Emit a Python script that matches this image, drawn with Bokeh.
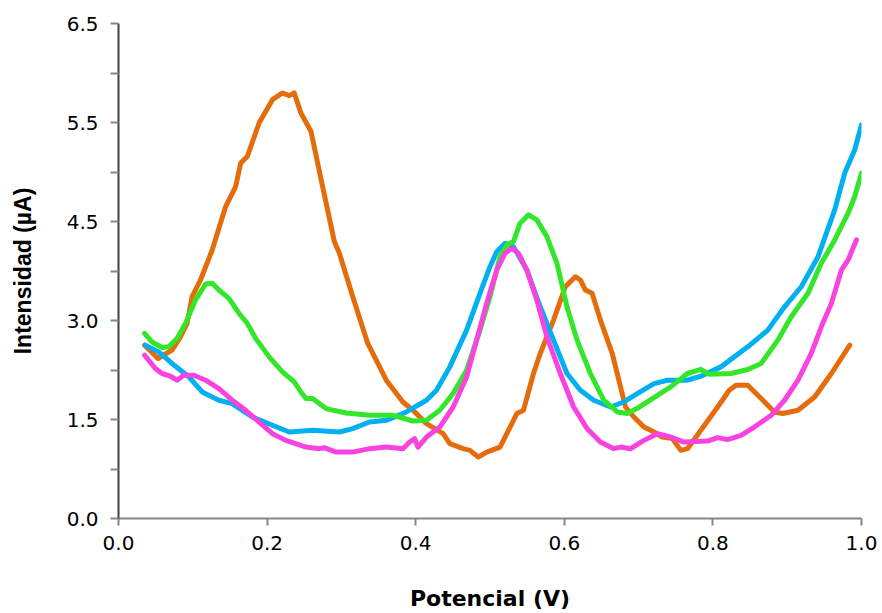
from bokeh.plotting import figure
from bokeh.models import Range1d, FixedTicker
from bokeh.embed import file_html
from bokeh.resources import INLINE

# Voltammograms: potential (V) vs current (µA), four traces
x_orange = [0.0351, 0.0531, 0.0720, 0.0834, 0.0923, 0.0991, 0.1104, 0.1261, 0.1442, 0.1577,
            0.1645, 0.1734, 0.1892, 0.2072, 0.2207, 0.2297, 0.2365, 0.2455, 0.2591, 0.2747,
            0.2905, 0.2973, 0.3153, 0.3355, 0.3604, 0.3828, 0.3964, 0.4145, 0.4369, 0.4459,
            0.4639, 0.4730, 0.4842, 0.4955, 0.5135, 0.5226, 0.5361, 0.5450, 0.5585, 0.5676,
            0.5855, 0.6014, 0.6149, 0.6216, 0.6284, 0.6374, 0.6486, 0.6645, 0.6734, 0.6824,
            0.6936, 0.7072, 0.7207, 0.7320, 0.7455, 0.7568, 0.7658, 0.7838, 0.8064, 0.8220,
            0.8311, 0.8469, 0.8649, 0.8828, 0.8942, 0.9145, 0.9369, 0.9595, 0.9842]
y_orange = [2.276, 2.101, 2.211, 2.386, 2.562, 2.912, 3.132, 3.526, 4.096, 4.359,
            4.667, 4.754, 5.193, 5.500, 5.588, 5.553, 5.588, 5.325, 5.083, 4.359,
            3.636, 3.483, 2.912, 2.299, 1.816, 1.530, 1.421, 1.246, 1.114, 0.983,
            0.917, 0.895, 0.807, 0.872, 0.938, 1.114, 1.378, 1.421, 1.904, 2.167,
            2.605, 3.043, 3.175, 3.132, 3.000, 2.957, 2.605, 2.167, 1.816, 1.464,
            1.333, 1.201, 1.136, 1.070, 1.049, 0.895, 0.917, 1.158, 1.464, 1.684,
            1.750, 1.750, 1.575, 1.399, 1.378, 1.421, 1.596, 1.904, 2.276]

x_blue = [0.0361, 0.0541, 0.0720, 0.0946, 0.1126, 0.1351, 0.1531, 0.1801, 0.2072, 0.2297,
          0.2612, 0.2973, 0.3153, 0.3378, 0.3604, 0.3874, 0.4145, 0.4280, 0.4459, 0.4685,
          0.4865, 0.5000, 0.5091, 0.5203, 0.5315, 0.5496, 0.5676, 0.5855, 0.6036, 0.6216,
          0.6396, 0.6622, 0.6801, 0.6982, 0.7207, 0.7388, 0.7658, 0.7838, 0.8108, 0.8469,
          0.8739, 0.8964, 0.9189, 0.9415, 0.9639, 0.9774, 0.9909, 1.0000]
y_blue = [2.276, 2.188, 2.036, 1.861, 1.662, 1.553, 1.509, 1.333, 1.224, 1.136,
          1.158, 1.136, 1.180, 1.267, 1.289, 1.399, 1.553, 1.684, 1.991, 2.474,
          2.957, 3.307, 3.504, 3.614, 3.570, 3.263, 2.780, 2.342, 1.904, 1.684,
          1.553, 1.464, 1.530, 1.641, 1.772, 1.816, 1.816, 1.868, 1.991, 2.254,
          2.474, 2.780, 3.043, 3.438, 4.053, 4.536, 4.842, 5.171]

x_green = [0.0351, 0.0450, 0.0585, 0.0676, 0.0788, 0.0901, 0.1036, 0.1172, 0.1261, 0.1351,
           0.1486, 0.1622, 0.1734, 0.1847, 0.2027, 0.2207, 0.2365, 0.2455, 0.2523, 0.2612,
           0.2793, 0.3064, 0.3378, 0.3693, 0.3964, 0.4145, 0.4324, 0.4504, 0.4685, 0.4865,
           0.5000, 0.5135, 0.5226, 0.5315, 0.5405, 0.5518, 0.5631, 0.5766, 0.5901, 0.6036,
           0.6172, 0.6351, 0.6531, 0.6712, 0.6846, 0.6982, 0.7253, 0.7432, 0.7658, 0.7838,
           0.7950, 0.8243, 0.8469, 0.8649, 0.8874, 0.9054, 0.9280, 0.9459, 0.9639, 0.9820,
           0.9909, 1.0000]
y_green = [2.430, 2.320, 2.246, 2.254, 2.364, 2.562, 2.868, 3.079, 3.088, 3.000,
           2.891, 2.693, 2.562, 2.364, 2.122, 1.925, 1.793, 1.662, 1.575, 1.575,
           1.443, 1.386, 1.355, 1.355, 1.280, 1.289, 1.421, 1.641, 1.947, 2.474,
           2.912, 3.438, 3.592, 3.636, 3.878, 3.987, 3.921, 3.701, 3.351, 2.780,
           2.342, 1.904, 1.553, 1.399, 1.378, 1.447, 1.618, 1.728, 1.904, 1.957,
           1.895, 1.904, 1.957, 2.036, 2.342, 2.649, 2.957, 3.351, 3.658, 4.009,
           4.228, 4.536]

x_magenta = [0.0351, 0.0496, 0.0585, 0.0699, 0.0788, 0.0878, 0.1014, 0.1172, 0.1351, 0.1531,
             0.1712, 0.1892, 0.2072, 0.2253, 0.2523, 0.2703, 0.2770, 0.2928, 0.3153, 0.3378,
             0.3604, 0.3828, 0.3919, 0.3986, 0.4031, 0.4145, 0.4324, 0.4504, 0.4685, 0.4820,
             0.4955, 0.5091, 0.5203, 0.5293, 0.5382, 0.5496, 0.5631, 0.5766, 0.5946, 0.6126,
             0.6307, 0.6486, 0.6666, 0.6757, 0.6892, 0.7072, 0.7253, 0.7432, 0.7612, 0.7928,
             0.8064, 0.8199, 0.8378, 0.8558, 0.8784, 0.8964, 0.9145, 0.9324, 0.9459, 0.9595,
             0.9730, 0.9820, 0.9932]
y_magenta = [2.145, 1.970, 1.904, 1.868, 1.816, 1.882, 1.882, 1.816, 1.707, 1.553,
             1.421, 1.267, 1.114, 1.026, 0.938, 0.917, 0.930, 0.872, 0.872, 0.917,
             0.938, 0.917, 1.004, 1.049, 0.938, 1.070, 1.201, 1.464, 1.859, 2.342,
             2.825, 3.263, 3.483, 3.549, 3.483, 3.263, 2.868, 2.386, 1.904, 1.464,
             1.180, 1.004, 0.917, 0.938, 0.917, 1.026, 1.114, 1.070, 1.004, 1.017,
             1.062, 1.036, 1.092, 1.201, 1.355, 1.553, 1.816, 2.167, 2.517, 2.825,
             3.263, 3.395, 3.658]

# Axis ticks and their printed labels
x_ticks = [0.0, 0.2, 0.4, 0.6, 0.8, 1.0]
x_tick_labels = ["0.0", "0.2", "0.4", "0.6", "0.8", "1.0"]
y_ticks = [0.0, 0.65, 1.3, 1.95, 2.6, 3.25, 3.9, 4.55, 5.2, 5.85, 6.5]
y_tick_labels = ["0.0", "", "1.5", "", "3.0", "", "4.5", "", "5.5", "", "6.5"]

p = figure(width=882, height=613, output_backend="svg", toolbar_location=None,
           x_range=Range1d(0, 1), y_range=Range1d(0, 6.5),
           frame_width=743, frame_height=495,
           min_border_left=118, min_border_right=21, min_border_top=23, min_border_bottom=95)
p.outline_line_color = None
p.background_fill_color = "white"
p.border_fill_color = "white"
p.xgrid.visible = False
p.ygrid.visible = False

series = [
    (x_orange, y_orange, "#E46C0A"),
    (x_blue, y_blue, "#00B0F0"),
    (x_green, y_green, "#33E62A"),
    (x_magenta, y_magenta, "#F943E0"),
]
for xs, ys, c in series:
    p.line(xs, ys, line_color=c, line_width=5, line_join="round", line_cap="round")

xa = p.xaxis[0]
xa.ticker = FixedTicker(ticks=x_ticks)
xa.major_label_overrides = {t: s for t, s in zip(x_ticks, x_tick_labels)}
xa.axis_label = "Potencial (V)"
xa.axis_label_text_font = "DejaVu Sans"
xa.axis_label_text_font_style = "bold"
xa.axis_label_text_font_size = "22px"
xa.axis_label_text_color = "black"
xa.axis_label_standoff = 33
xa.major_label_text_font = "DejaVu Sans"
xa.major_label_text_font_size = "20px"
xa.major_label_text_color = "black"
xa.major_label_standoff = 10
xa.axis_line_color = "#868686"
xa.axis_line_width = 2
xa.major_tick_line_color = "#868686"
xa.major_tick_line_width = 2
xa.major_tick_out = 7
xa.major_tick_in = 0
xa.minor_tick_line_color = None

ya = p.yaxis[0]
ya.ticker = FixedTicker(ticks=y_ticks)
ya.major_label_overrides = {t: s for t, s in zip(y_ticks, y_tick_labels)}
ya.axis_label = "Intensidad (µA)"
ya.axis_label_text_font = "Liberation Sans"
ya.axis_label_text_font_style = "bold"
ya.axis_label_text_font_size = "23px"
ya.axis_label_text_color = "black"
ya.axis_label_standoff = 28
ya.major_label_text_font = "DejaVu Sans"
ya.major_label_text_font_size = "20px"
ya.major_label_text_color = "black"
ya.major_label_standoff = 12
ya.axis_line_color = "#404040"
ya.axis_line_width = 2
ya.major_tick_line_color = "#868686"
ya.major_tick_line_width = 2
ya.major_tick_out = 8
ya.major_tick_in = 0
ya.minor_tick_line_color = None

open("out.html", "w").write(file_html(p, INLINE))
